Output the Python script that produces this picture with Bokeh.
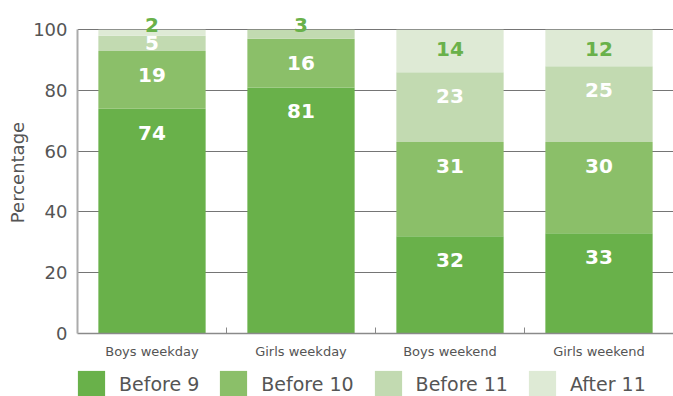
from bokeh.plotting import figure
from bokeh.layouts import column
from bokeh.models import (Range1d, FixedTicker, ColumnDataSource, LabelSet,
                          Legend, LegendItem)
from bokeh.core.properties import value
from bokeh.embed import file_html
from bokeh.resources import INLINE

categories = ["Boys weekday", "Girls weekday", "Boys weekend", "Girls weekend"]
series = ["Before 9", "Before 10", "Before 11", "After 11"]
before_9 = [74, 81, 32, 33]
before_10 = [19, 16, 31, 30]
before_11 = [5, 3, 23, 25]
after_11 = [2, 0, 14, 12]
y_ticks = [0, 20, 40, 60, 80, 100]

colors = ["#69B14A", "#8BBF69", "#C2DAB1", "#DEEAD5"]
label_green = "#69B14A"
FONT = "DejaVu Sans"
W = 673

values = [before_9, before_10, before_11, after_11]
xs = [i + 0.5 for i in range(len(categories))]

data = {"x": xs}
for s, v in zip(series, values):
    data[s] = v
src = ColumnDataSource(data)

p = figure(width=W, height=364, x_range=Range1d(0, len(categories)),
           y_range=Range1d(0, 106), output_backend="svg",
           toolbar_location=None, min_border_left=77, min_border_right=0,
           min_border_top=11, min_border_bottom=31)
p.outline_line_color = None
p.background_fill_color = "white"
p.border_fill_color = "white"

renderers = p.vbar_stack(series, x="x", width=0.72, source=src,
                         color=colors, line_color=None)

# grid
p.xgrid.visible = False
p.ygrid.ticker = FixedTicker(ticks=y_ticks)
p.ygrid.grid_line_color = "#757575"
p.ygrid.grid_line_width = 1

# y axis
ya = p.yaxis[0]
ya.ticker = FixedTicker(ticks=y_ticks)
ya.bounds = (y_ticks[0], y_ticks[-1])
ya.axis_label = "Percentage"
ya.axis_label_text_font = FONT
ya.axis_label_text_font_style = "normal"
ya.axis_label_text_font_size = "18px"
ya.axis_label_text_color = "#555555"
ya.axis_label_standoff = 2
ya.major_label_text_font = FONT
ya.major_label_text_font_size = "18px"
ya.major_label_text_color = "#555555"
ya.major_label_standoff = 10
ya.major_tick_line_color = None
ya.major_tick_out = 0
ya.major_tick_in = 0
ya.minor_tick_line_color = None
ya.minor_tick_out = 0
ya.axis_line_color = "#ababab"
ya.axis_line_width = 2

# x axis
xa = p.xaxis[0]
xa.ticker = FixedTicker(ticks=xs, minor_ticks=list(range(1, len(categories))))
xa.major_label_overrides = {x: c for x, c in zip(xs, categories)}
xa.major_label_text_font = FONT
xa.major_label_text_font_size = "13px"
xa.major_label_text_color = "#555555"
xa.major_label_standoff = 10
xa.major_tick_line_color = None
xa.major_tick_out = 0
xa.major_tick_in = 0
xa.minor_tick_in = 6
xa.minor_tick_out = 0
xa.minor_tick_line_color = "#888888"
xa.axis_line_color = "#8a8a8a"
xa.axis_line_width = 1.5

# value labels
last = len(values) - 1
lx, ly, lt, lc, lo = [], [], [], [], []
for i, x in enumerate(xs):
    bottom = 0
    for si, v in enumerate(values):
        val = v[i]
        top = bottom + val
        if val > 0:
            if val >= 10:
                y, off = top, (-19 if si == last else -24)
            elif val >= 4:
                y, off = (bottom + top) / 2, 0
            else:
                y, off = top, 5
            lx.append(x)
            ly.append(y)
            lt.append(str(val))
            lo.append(off)
            lc.append(label_green if (si == last or val < 4) else "white")
        bottom = top

lsrc = ColumnDataSource(dict(x=lx, y=ly, t=lt, c=lc, o=lo))
labels = LabelSet(x="x", y="y", text="t", source=lsrc, y_offset="o",
                  text_color="c", text_font=value(FONT),
                  text_font_style="bold", text_font_size="20px",
                  text_align="center", text_baseline="middle")
p.add_layout(labels)

# legend in its own strip below (frames are aligned by the column layout)
lg = figure(width=W, height=32, x_range=Range1d(0, 1), y_range=Range1d(0, 1),
            output_backend="svg", toolbar_location=None,
            x_axis_location=None, y_axis_location=None, min_border=0)
lg.outline_line_color = None
lg.xgrid.visible = False
lg.ygrid.visible = False
dummy = [lg.vbar(x=[0], top=[0], bottom=[0], width=0.0, color=c,
                 line_color=None) for c in colors]
items = [LegendItem(label=s, renderers=[r], index=0)
         for s, r in zip(series, dummy)]
legend = Legend(items=items, orientation="horizontal", location=(-3, -5),
                glyph_width=34, glyph_height=34, label_text_font=FONT,
                label_text_font_size="19px", label_text_color="#555555",
                spacing=17, label_standoff=11, padding=0, margin=0,
                border_line_color=None, background_fill_alpha=0)
lg.add_layout(legend)

layout = column(p, lg, spacing=0)
open("out.html", "w").write(file_html(layout, INLINE))
